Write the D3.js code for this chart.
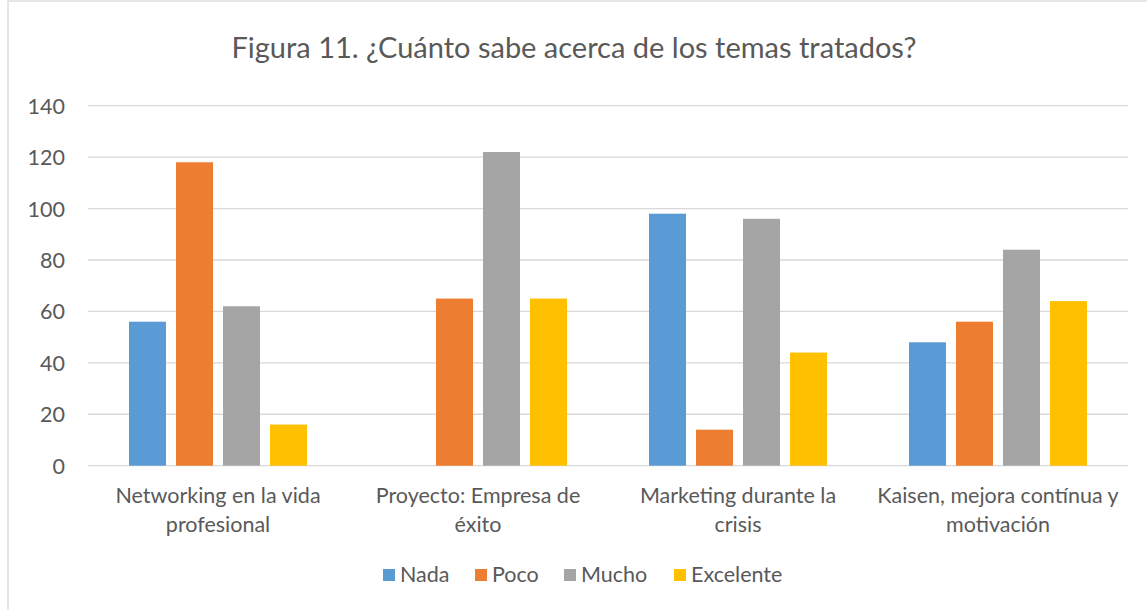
<!DOCTYPE html>
<html><head><meta charset="utf-8">
<script src="https://cdn.jsdelivr.net/npm/d3@7"></script>
<style>body{margin:0;background:#fff;} svg{display:block;}</style>
</head><body>
<script>
const categories = [["Networking en la vida","profesional"],["Proyecto: Empresa de","éxito"],["Marketing durante la","crisis"],["Kaisen, mejora contínua y","motivación"]];
const seriesNames = ["Nada","Poco","Mucho","Excelente"];
const nada = [56, 0, 98, 48];
const poco = [118, 65, 14, 56];
const mucho = [62, 122, 96, 84];
const excelente = [16, 65, 44, 64];
const colors = ["#5b9bd5","#ed7d31","#a5a5a5","#ffc000"];
const yTicks = [0,20,40,60,80,100,120,140];
const title = "Figura 11. ¿Cuánto sabe acerca de los temas tratados?";

const values = [nada, poco, mucho, excelente];
const W = 1147, H = 610;
const font = "Lato, 'Open Sans', sans-serif";
const svg = d3.select("body").append("svg").attr("width", W).attr("height", H);
svg.append("rect").attr("x",8).attr("y",1).attr("width",W+10).attr("height",H+10)
  .attr("fill","#fff").attr("stroke","#d9d9d9").attr("stroke-width",1.3);

svg.append("text").attr("x",574).attr("y",58).attr("text-anchor","middle")
  .attr("font-family",font).attr("font-size",29).attr("fill","#595959").text(title);

const idx = d3.range(categories.length);
const x0 = d3.scaleBand().domain(idx).range([88,1128]).padding(0);
const x1 = d3.scaleBand().domain(seriesNames).range([41,219]).paddingInner(10/47).paddingOuter(0);
const y = d3.scaleLinear().domain([0,140]).range([465.7,105.7]);

const g = svg.append("g");
g.selectAll("line.grid").data(yTicks).join("line")
  .attr("x1",88).attr("x2",1128).attr("y1",d=>y(d)).attr("y2",d=>y(d))
  .attr("stroke","#d9d9d9").attr("stroke-width",1.3);

const yAxis = d3.axisLeft(y).tickValues(yTicks).tickSize(0).tickPadding(0);
const ya = svg.append("g").attr("transform","translate(65,0)").call(yAxis);
ya.select(".domain").remove();
ya.selectAll("text").attr("font-family",font).attr("font-size",21.5).attr("fill","#595959").attr("dy","0.35em");

seriesNames.forEach((s,si)=>{
  g.selectAll("rect.s"+si).data(idx.filter(i=>values[si][i]>0)).join("rect")
    .attr("x",i=>x0(i)+x1(s)).attr("width",x1.bandwidth())
    .attr("y",i=>y(values[si][i])).attr("height",i=>y(0)-y(values[si][i]))
    .attr("fill",colors[si]);
});

const xa = svg.append("g");
idx.forEach(i=>{
  const t = xa.append("text").attr("x",x0(i)+x0.bandwidth()/2).attr("text-anchor","middle")
    .attr("font-family",font).attr("font-size",21.5).attr("fill","#595959");
  categories[i].forEach((line,li)=>{
    t.append("tspan").attr("x",x0(i)+x0.bandwidth()/2).attr("y",503+li*29).text(line);
  });
});

const legX = [383,475,564,674];
const lg = svg.append("g");
seriesNames.forEach((s,si)=>{
  lg.append("rect").attr("x",legX[si]).attr("y",569).attr("width",12).attr("height",12).attr("fill",colors[si]);
  lg.append("text").attr("x",legX[si]+17).attr("y",582).attr("font-family",font).attr("font-size",21.5)
    .attr("fill","#595959").text(s);
});
</script>
</body></html>
